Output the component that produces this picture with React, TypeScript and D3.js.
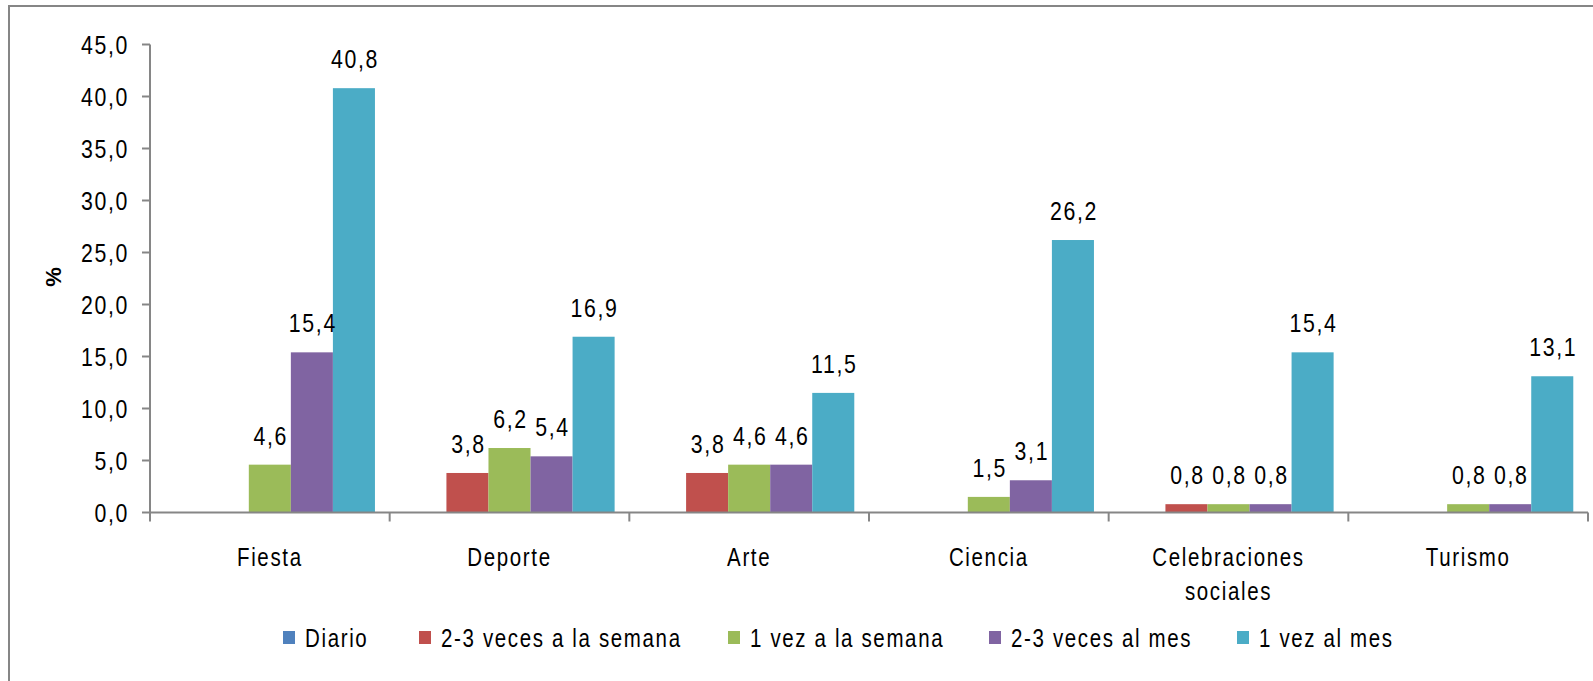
import * as d3 from "d3";
import React from "react";

const categories = ["Fiesta", "Deporte", "Arte", "Ciencia", "Celebraciones sociales", "Turismo"];
const seriesNames = ["Diario", "2-3 veces a la semana", "1 vez a la semana", "2-3 veces al mes", "1 vez al mes"];
const seriesColors = ["#4F81BD", "#C0504D", "#9BBB59", "#8064A2", "#4BACC6"];

const diario = [0, 0, 0, 0, 0, 0];
const dosTresSemana = [0, 3.8, 3.8, 0, 0.8, 0];
const unaSemana = [4.6, 6.2, 4.6, 1.5, 0.8, 0.8];
const dosTresMes = [15.4, 5.4, 4.6, 3.1, 0.8, 0.8];
const unaMes = [40.8, 16.9, 11.5, 26.2, 15.4, 13.1];
const seriesValues = [diario, dosTresSemana, unaSemana, dosTresMes, unaMes];

const yTicks = [0, 5, 10, 15, 20, 25, 30, 35, 40, 45];

// legend x positions (square left edge)
const legendX = [283, 419, 728, 989, 1237];

const W = 1593;
const H = 681;
const fmt = (v: number) => v.toFixed(1).replace(".", ",");

// narrow-looking text: Liberation Sans squeezed horizontally
const T = ({ x, y, anchor = "middle", size = 26, sx = 0.82, ls = 2, children }: any) => (
  <text
    transform={`translate(${x},${y}) scale(${sx},1)`}
    textAnchor={anchor}
    fontSize={size}
    letterSpacing={ls}
    fontFamily="'Liberation Sans', Arial, sans-serif"
    fill="#000"
  >
    {children}
  </text>
);

export default function App() {
  const x0 = d3.scaleBand().domain(categories).range([150, 1588]).padding(0);
  const x1 = d3
    .scaleBand()
    .domain(seriesNames)
    .range([0, x0.bandwidth()])
    .paddingInner(0)
    .paddingOuter(0.35);
  const y = d3.scaleLinear().domain([0, 45]).range([512.5, 44.5]);

  const axisColor = "#868686";

  return (
    <svg width={W} height={H} style={{ position: "absolute", left: 0, top: 0, background: "#fff" }}>
      <rect x={9} y={6} width={1700} height={800} fill="#fff" stroke={axisColor} strokeWidth={2} />

      {/* bars */}
      {seriesValues.map((vals, si) => (
        <g key={si} fill={seriesColors[si]}>
          {vals.map((v, ci) =>
            v > 0 ? (
              <rect
                key={ci}
                x={x0(categories[ci])! + x1(seriesNames[si])!}
                y={y(v)}
                width={x1.bandwidth()}
                height={y(0) - y(v)}
              />
            ) : null
          )}
        </g>
      ))}

      {/* value labels */}
      {seriesValues.map((vals, si) => (
        <g key={si}>
          {vals.map((v, ci) =>
            v > 0 ? (
              <T key={ci} x={x0(categories[ci])! + x1(seriesNames[si])! + x1.bandwidth() / 2 + 1} y={y(v) - 20}>
                {fmt(v)}
              </T>
            ) : null
          )}
        </g>
      ))}

      {/* y axis */}
      <line x1={150} x2={150} y1={y(45)} y2={y(0)} stroke={axisColor} strokeWidth={2} />
      {yTicks.map((t) => (
        <g key={t}>
          <line x1={142} x2={150} y1={y(t)} y2={y(t)} stroke={axisColor} strokeWidth={2} />
          <T x={129} y={y(t) + 9} anchor="end">
            {fmt(t)}
          </T>
        </g>
      ))}
      <text
        transform="translate(61,277) rotate(-90)"
        textAnchor="middle"
        fontSize={22}
        fontWeight="bold"
        fontFamily="'Liberation Sans', Arial, sans-serif"
        fill="#000"
      >
        %
      </text>

      {/* x axis */}
      <line x1={150} x2={1588} y1={y(0)} y2={y(0)} stroke={axisColor} strokeWidth={2} />
      <line x1={150} x2={150} y1={y(0)} y2={y(0) + 9} stroke={axisColor} strokeWidth={2} />
      {categories.map((c) => (
        <line
          key={c}
          x1={x0(c)! + x0.bandwidth()}
          x2={x0(c)! + x0.bandwidth()}
          y1={y(0)}
          y2={y(0) + 9}
          stroke={axisColor}
          strokeWidth={2}
        />
      ))}
      {categories.map((c) => {
        const words = c === "Celebraciones sociales" ? ["Celebraciones", "sociales"] : [c];
        const cx = x0(c)! + x0.bandwidth() / 2;
        return (
          <g key={c}>
            {words.map((w, i) => (
              <T key={w} x={cx} y={566 + i * 34} size={25}>
                {w}
              </T>
            ))}
          </g>
        );
      })}

      {/* legend */}
      {seriesNames.map((s, i) => (
        <g key={s}>
          <rect x={legendX[i]} y={631} width={12} height={13} fill={seriesColors[i]} />
          <T x={legendX[i] + 22} y={647} anchor="start" size={25}>
            {s}
          </T>
        </g>
      ))}
    </svg>
  );
}
